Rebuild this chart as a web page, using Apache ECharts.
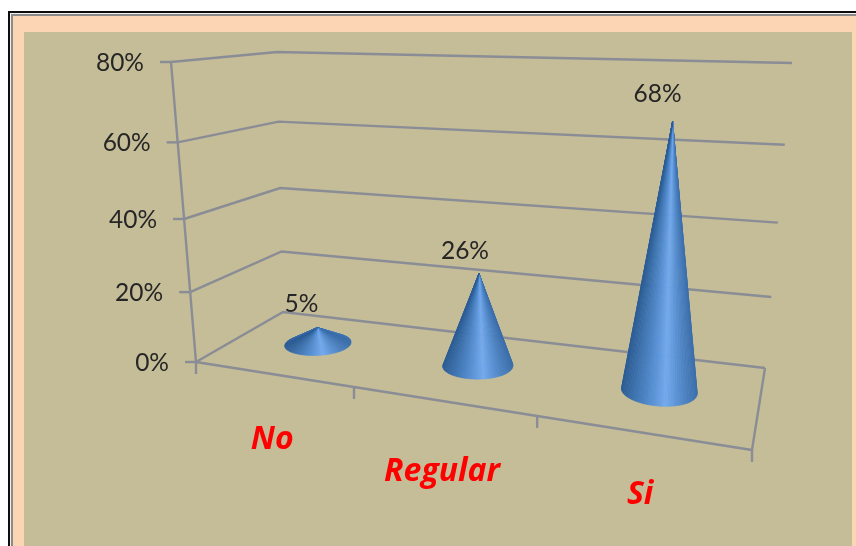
<!DOCTYPE html>
<html>
<head>
<meta charset="utf-8">
<style>html,body{margin:0;padding:0;background:#fff}#chart{width:856px;height:546px}</style>
<script src="https://cdn.jsdelivr.net/npm/echarts@6/dist/echarts.min.js"></script>
</head>
<body>
<div id="chart"></div>
<script>
// Survey answers and their shares, in percent
const categories = ['No', 'Regular', 'Si'];
const shares = [5, 26, 68];
const axisTicks = [0, 20, 40, 60, 80];
const axisLabels = ['0%', '20%', '40%', '60%', '80%'];

// Edges of the 3D box on screen; each edge carries its own foreshortening
const frontBase = { a: [196, 362], b: [752, 450], g: -0.206 };
const backBase = { a: [283, 312], b: [765, 368], g: -0.14 };
const frontTop = { a: [171, 62], b: [768, 86], g: -0.206 };
const backTop = { a: [277, 52], b: [792, 63], g: -0.12 };
const riseBend = -0.089;
const coneDepth = 0.56;
const coneRadiusX = 0.064;
const coneRadiusD = 0.2;
const labelNudge = [[-16, -23], [-14, -23], [-15, -28]];
const categoryDrop = [66, 71, 63];

const gridColor = '#8a8c96';
const numberFont = 'Lato, "Open Sans", sans-serif';
const categoryFont = '"Open Sans", sans-serif';
const coneShades = ['#2c5d96', '#3a70ad', '#4a82c4', '#5c95da', '#74aaee', '#5c94d8', '#4a80c0', '#3a6dab'];

const mix = (p, q, s) => [p[0] + (q[0] - p[0]) * s, p[1] + (q[1] - p[1]) * s];

function along(edge, s) {
  const w = 1 + edge.g * s;
  const n = (i) => edge.a[i] + (edge.b[i] * (1 + edge.g) - edge.a[i]) * s;
  return [n(0) / w, n(1) / w];
}

// Box coordinates (across, depth, height; each 0..1) to screen pixels
function project(x, d, t) {
  const floor = mix(along(frontBase, x), along(backBase, x), d);
  const roof = mix(along(frontTop, x), along(backTop, x), d);
  const rise = t * (1 + riseBend) / (1 + riseBend * t);
  return mix(floor, roof, rise);
}

function toBox(params, api, cat, val) {
  const p = api.coord([cat, val]);
  const c = params.coordSys;
  return [(p[0] - c.x) / c.width, 1 - (p[1] - c.y) / c.height];
}

function hull(points) {
  const pts = points.slice().sort((p, q) => p[0] - q[0] || p[1] - q[1]);
  const cross = (o, p, q) => (p[0] - o[0]) * (q[1] - o[1]) - (p[1] - o[1]) * (q[0] - o[0]);
  const half = (list) => {
    const out = [];
    list.forEach((p) => {
      while (out.length > 1 && cross(out[out.length - 2], out[out.length - 1], p) <= 0) out.pop();
      out.push(p);
    });
    out.pop();
    return out;
  };
  return half(pts).concat(half(pts.slice().reverse()));
}

const lineStyle = { stroke: gridColor, lineWidth: 2.4, fill: null };
const seg = (p, q) => ({
  type: 'polyline',
  shape: { points: [p, q] },
  style: lineStyle,
  silent: true
});

// Wall gridlines with their tick stubs and percent labels
function renderGridline(params, api) {
  const t = toBox(params, api, 0, api.value(1))[1];
  const front = project(0, 0, t);
  const label = axisLabels[params.dataIndex];
  return {
    type: 'group',
    children: [
      {
        type: 'polyline',
        shape: { points: [front, project(0, 1, t), project(1, 1, t)] },
        style: lineStyle
      },
      seg([front[0] - 11, front[1]], front),
      {
        type: 'text',
        style: {
          text: label,
          x: front[0] - 27,
          y: front[1] + 1,
          align: 'right',
          verticalAlign: 'middle',
          fontFamily: numberFont,
          fontSize: 24.5,
          fill: '#262626'
        }
      }
    ]
  };
}

// Left upright, floor outline and the category separators
function renderFloor(params, api) {
  const top = toBox(params, api, 0, axisTicks[axisTicks.length - 1])[1];
  const children = [
    seg(project(0, 0, 0), project(0, 0, top)),
    seg(project(0, 0, 0), project(1, 0, 0)),
    seg(project(1, 0, 0), project(1, 1, 0))
  ];
  for (let i = 0; i <= categories.length; i++) {
    const p = project(i / categories.length, 0, 0);
    children.push(seg(p, [p[0], p[1] + 12]));
  }
  return { type: 'group', children };
}

// One cone: a fan of flat facets from the tip to the base, plus its texts
function renderCone(params, api) {
  const i = params.dataIndex;
  const box = toBox(params, api, api.value(0), api.value(1));
  const x = box[0];
  const apex = project(x, coneDepth, box[1]);
  const ring = [];
  for (let k = 0; k < 96; k++) {
    const a = k / 96 * Math.PI * 2;
    ring.push(project(x + coneRadiusX * Math.cos(a), coneDepth + coneRadiusD * Math.sin(a), 0));
  }
  const outline = hull(ring.concat([apex]));
  const start = outline.indexOf(apex);
  const arc = outline.slice(start + 1).concat(outline.slice(0, start));
  const xs = arc.map((p) => p[0]);
  const minX = Math.min.apply(null, xs);
  const maxX = Math.max.apply(null, xs);
  const children = [];
  for (let k = 0; k + 1 < arc.length; k++) {
    const u = ((arc[k][0] + arc[k + 1][0]) / 2 - minX) / (maxX - minX);
    const shade = echarts.color.lerp(Math.max(0, Math.min(1, u)), coneShades);
    children.push({
      type: 'polygon',
      shape: { points: [apex, arc[k], arc[k + 1]] },
      style: { fill: shade, stroke: shade, lineWidth: 0.6 }
    });
  }
  children.push({
    type: 'text',
    style: {
      text: api.value(1) + '%',
      x: apex[0] + labelNudge[i][0],
      y: apex[1] + labelNudge[i][1],
      align: 'center',
      verticalAlign: 'middle',
      fontFamily: numberFont,
      fontSize: 24.5,
      fill: '#262626'
    }
  });
  const foot = project(x, 0, 0);
  children.push({
    type: 'text',
    style: {
      text: categories[i],
      x: foot[0],
      y: foot[1] + categoryDrop[i],
      align: 'center',
      verticalAlign: 'middle',
      fontFamily: categoryFont,
      fontSize: 32,
      fontWeight: 'bold',
      fontStyle: 'italic',
      fill: '#ff0000'
    }
  });
  return { type: 'group', children };
}

const rect = (x, y, w, h, fill, z) => ({
  type: 'rect',
  z: z,
  silent: true,
  shape: { x, y, width: w, height: h },
  style: { fill }
});

const chart = echarts.init(document.getElementById('chart'), null, { renderer: 'canvas' });
chart.setOption({
  animation: false,
  backgroundColor: '#ffffff',
  graphic: [
    rect(8, 11, 848, 535, '#0d0d0d', 0),
    rect(10, 13, 846, 533, '#f2f2f2', 0),
    rect(11, 14, 845, 532, '#8a8a8a', 0),
    rect(13, 16, 843, 530, '#fcd5b5', 0),
    rect(24, 32, 828, 514, '#c4bd97', 0)
  ],
  grid: { left: 0, right: 0, top: 0, bottom: 0 },
  xAxis: { type: 'category', data: categories, show: false },
  yAxis: { type: 'value', min: 0, max: 80, interval: 20, show: false },
  series: [
    {
      type: 'custom',
      name: 'gridlines',
      coordinateSystem: 'cartesian2d',
      clip: false,
      z: 2,
      silent: true,
      renderItem: renderGridline,
      data: axisTicks.map((v) => [0, v])
    },
    {
      type: 'custom',
      name: 'floor',
      coordinateSystem: 'cartesian2d',
      clip: false,
      z: 2,
      silent: true,
      renderItem: renderFloor,
      data: [[0, 0]]
    },
    {
      type: 'custom',
      name: 'shares',
      coordinateSystem: 'cartesian2d',
      clip: false,
      z: 3,
      silent: true,
      renderItem: renderCone,
      data: shares.map((v, i) => [i, v])
    }
  ]
});
</script>
</body>
</html>
